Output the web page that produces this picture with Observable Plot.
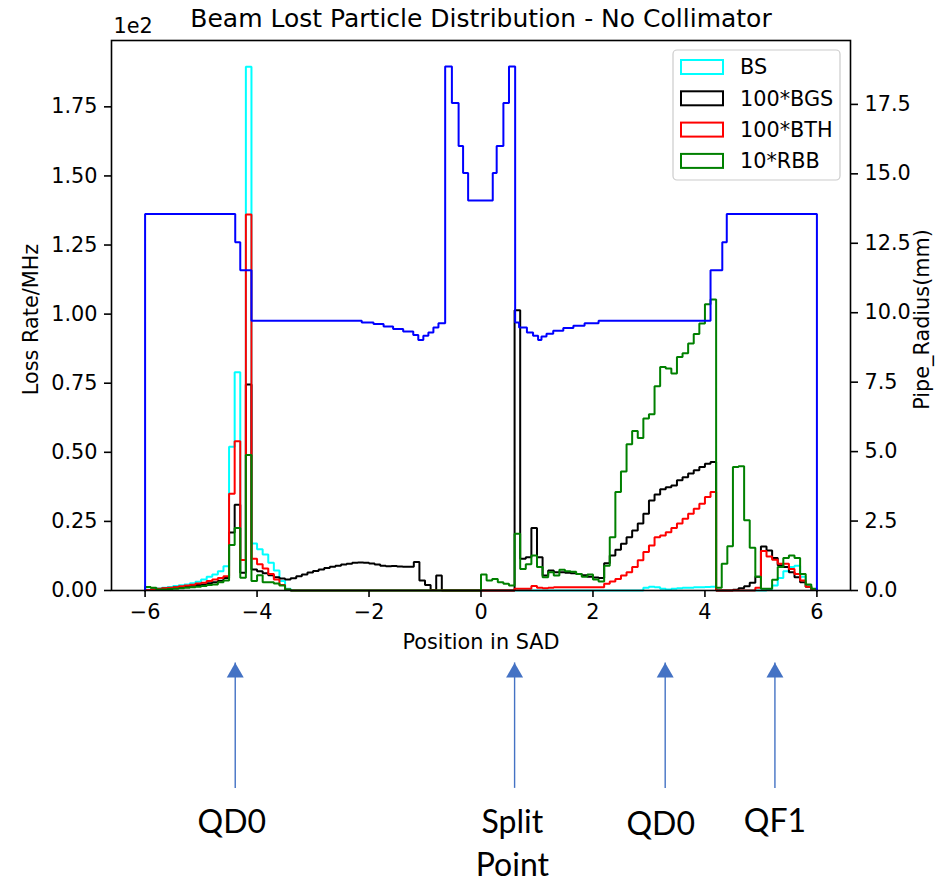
<!DOCTYPE html>
<html><head><meta charset="utf-8">
<script src="https://cdn.jsdelivr.net/npm/d3@7"></script>
<script src="https://cdn.jsdelivr.net/npm/@observablehq/plot@0.6"></script>
<style>body{margin:0;background:#fff} #chart svg{display:block}</style>
</head><body><div id="chart"></div>
<script>
const title = "Beam Lost Particle Distribution - No Collimator";
const xLabel = "Position in SAD";
const yLabelLeft = "Loss Rate/MHz";
const yLabelRight = "Pipe_Radius(mm)";
const xTicks = [-6, -4, -2, 0, 2, 4, 6];
const leftTicks = [0, 0.25, 0.5, 0.75, 1.0, 1.25, 1.5, 1.75];
const rightTicks = [0, 2.5, 5, 7.5, 10, 12.5, 15, 17.5];
const seriesNames = ["BS", "100*BGS", "100*BTH", "10*RBB"];
const seriesColors = ["#00ffff", "#000000", "#ff0000", "#008000"];

const binEdges = [
 -6.0,-5.9,-5.8,-5.7,-5.6,-5.5,-5.4,-5.3,-5.2,-5.1,
 -5.0,-4.9,-4.8,-4.7,-4.6,-4.5,-4.4,-4.3,-4.2,-4.1,
 -4.0,-3.9,-3.8,-3.7,-3.6,-3.5,-3.4,-3.3,-3.2,-3.1,
 -3.0,-2.9,-2.8,-2.7,-2.6,-2.5,-2.4,-2.3,-2.2,-2.1,
 -2.0,-1.9,-1.8,-1.7,-1.6,-1.5,-1.4,-1.3,-1.2,-1.1,
 -1.0,-0.9,-0.8,-0.7,-0.6,-0.5,-0.4,-0.3,-0.2,-0.1,
 0.0,0.1,0.2,0.3,0.4,0.5,0.6,0.7,0.8,0.9,
 1.0,1.1,1.2,1.3,1.4,1.5,1.6,1.7,1.8,1.9,
 2.0,2.1,2.2,2.3,2.4,2.5,2.6,2.7,2.8,2.9,
 3.0,3.1,3.2,3.3,3.4,3.5,3.6,3.7,3.8,3.9,
 4.0,4.1,4.2,4.3,4.4,4.5,4.6,4.7,4.8,4.9,
 5.0,5.1,5.2,5.3,5.4,5.5,5.6,5.7,5.8,5.9];
const binEnd = 6.0;

const bs = [
 0.003,0.005,0.007,0.010,0.013,0.016,0.019,0.022,0.026,0.032,
 0.040,0.050,0.058,0.070,0.088,0.520,0.790,0.110,1.895,0.170,
 0.149,0.130,0.100,0.072,0.034,0.006,0,0,0,0,
 0,0,0,0,0,0,0,0,0,0,
 0,0,0,0,0,0,0,0,0,0,
 0,0,0,0,0,0,0,0,0,0,
 0,0,0,0,0,0,0,0,0,0,
 0,0,0,0,0,0,0,0,0,0,
 0,0,0,0,0,0,0,0,0,0.010,
 0.014,0.012,0.006,0.004,0.006,0.008,0.010,0.010,0.012,0.012,
 0.013,0.014,0,0,0,0,0,0,0,0,
 0,0.004,0.018,0.045,0.070,0.085,0.090,0.050,0.015,0.004];
const bgs = [
 0.002,0.003,0.005,0.007,0.009,0.011,0.013,0.015,0.017,0.020,
 0.022,0.026,0.030,0.035,0.045,0.210,0.310,0.064,0.745,0.076,
 0.070,0.062,0.055,0.048,0.043,0.040,0.044,0.052,0.058,0.065,
 0.071,0.076,0.081,0.086,0.090,0.094,0.097,0.100,0.101,0.100,
 0.098,0.094,0.090,0.088,0.089,0.087,0.086,0.086,0.103,0.036,
 0.020,0.002,0.054,0,0,0,0,0,0,0,
 0,0,0,0,0,0,1.014,0.115,0.120,0.226,
 0.120,0.054,0.072,0.066,0.066,0.064,0.062,0.060,0.055,0.050,
 0.047,0.045,0.099,0.127,0.147,0.169,0.193,0.217,0.242,0.278,
 0.326,0.347,0.366,0.374,0.380,0.399,0.410,0.423,0.435,0.447,
 0.459,0.465,0,0,0,0.003,0.008,0.015,0.028,0.050,
 0.159,0.145,0.118,0.091,0.085,0.066,0.048,0.030,0.014,0.004];
const bth = [
 0.002,0.004,0.006,0.008,0.010,0.012,0.015,0.018,0.021,0.025,
 0.028,0.034,0.040,0.045,0.052,0.350,0.540,0.110,1.360,0.115,
 0.095,0.080,0.060,0.040,0.020,0.004,0,0,0,0,
 0,0,0,0,0,0,0,0,0,0,
 0,0,0,0,0,0,0,0,0,0,
 0,0,0,0,0,0,0,0,0,0,
 0,0,0,0,0,0,0.006,0.006,0.006,0.016,
 0.010,0.008,0.010,0.012,0.012,0.012,0.012,0.012,0.012,0.012,
 0.012,0.012,0.024,0.033,0.042,0.054,0.066,0.085,0.109,0.139,
 0.163,0.193,0.199,0.211,0.226,0.242,0.260,0.278,0.296,0.314,
 0.338,0.356,0,0,0,0,0,0,0,0.010,
 0.143,0.123,0.111,0.097,0.097,0.078,0.060,0.036,0.014,0.003];
const rbb = [
 0.013,0.010,0.004,0.004,0.005,0.006,0.008,0.010,0.012,0.014,
 0.016,0.020,0.022,0.030,0.036,0.165,0.226,0.046,0.490,0.034,
 0.055,0.030,0.030,0.025,0.018,0.004,0,0,0,0,
 0,0,0,0,0,0,0,0,0,0,
 0,0,0,0,0,0,0,0,0,0,
 0,0,0,0,0,0,0,0,0,0,
 0.058,0.036,0.042,0.030,0.024,0.018,0.205,0.078,0.095,0.127,
 0.085,0.048,0.066,0.054,0.075,0.070,0.068,0.060,0.050,0.058,
 0.040,0.033,0.090,0.193,0.356,0.431,0.529,0.577,0.552,0.622,
 0.638,0.739,0.809,0.803,0.785,0.845,0.858,0.894,0.928,0.966,
 1.036,1.053,0.010,0.097,0.160,0.447,0.450,0.254,0.155,0.050,
 0.006,0.006,0.039,0.085,0.118,0.127,0.118,0.060,0.022,0.006];

// Pipe radius (mm): step positions and radii
const pipeX = [-6.0,-6.0,-4.39,-4.30,-4.10,-2.13,-1.92,-1.74,-1.57,-1.39,-1.21,-1.12,-1.03,-0.94,-0.85,-0.76,
  -0.64,-0.52,-0.40,-0.32,-0.23,0.21,0.28,0.40,0.50,
  0.61,0.68,0.82,0.93,1.02,1.08,1.17,1.29,1.47,1.65,1.85,2.10,4.10,4.31,4.39,6.0];
const pipeR = [0,13.55,12.54,11.53,9.71,9.65,9.59,9.50,9.41,9.32,9.20,9.02,9.17,9.29,9.47,9.62,
  18.86,17.55,16.0,15.03,14.04,15.03,16.0,17.55,18.86,
  9.65,9.47,9.29,9.17,9.02,9.14,9.24,9.35,9.45,9.53,9.62,9.71,11.53,12.54,13.55,0];

// annotations below the chart (data x, y in left-axis units)
const annArrowX = [-4.39, 0.60, 3.29, 5.25];
const annTipY = -0.262, annBaseY = -0.716, annHeadY = -0.297;
const annTexts = ["QD0", "Split", "Point", "QD0", "QF1"];
const annTextX = [-4.45, 0.56, 0.56, 3.21, 5.25];
const annTextY = [-0.839, -0.839, -0.995, -0.847, -0.836];

const yMax = 1.99, rMax = 19.8;
const K = yMax / rMax;

function stepPts(vals) {
  const pts = [{x: binEdges[0], y: 0}];
  binEdges.forEach((e, i) => pts.push({x: e, y: vals[i]}));
  pts.push({x: binEnd, y: 0});
  return pts;
}
const seriesVals = [bs, bgs, bth, rbb];
const pipe = pipeX.map((x, i) => ({x, r: pipeR[i]}));
const arrows = annArrowX.map(x => ({x}));
const labels = annTexts.map((t, i) => ({t, x: annTextX[i], y: annTextY[i]}));

const FS = 20.8;
const plot = Plot.plot({
  width: 948, height: 881,
  marginTop: 40, marginBottom: 291, marginLeft: 111, marginRight: 98,
  style: {fontFamily: "DejaVu Sans", fontSize: FS + "px", background: "white", color: "black", overflow: "visible"},
  x: {domain: [-6.6, 6.6]},
  y: {domain: [0, yMax]},
  marks: [
    ...seriesVals.map((v, i) => Plot.line(stepPts(v), {x: "x", y: "y", curve: "step-after", stroke: seriesColors[i], strokeWidth: 2, strokeLinejoin: "miter"})),
    Plot.line(pipe, {x: "x", y: d => d.r * K, curve: "step-after", stroke: "#0000ff", strokeWidth: 2, strokeLinejoin: "miter"}),
    Plot.frame({stroke: "black", strokeWidth: 1.6}),
    Plot.axisX({ticks: xTicks, tickSize: 7, tickPadding: 7, fontSize: FS, label: null, strokeWidth: 1.6}),
    Plot.axisY({anchor: "left", ticks: leftTicks, tickFormat: d => d.toFixed(2), tickSize: 7, tickPadding: 7, fontSize: FS, label: null, strokeWidth: 1.6}),
    Plot.axisY({anchor: "right", ticks: rightTicks.map(t => t * K), tickFormat: d => (Math.round(d / K * 10) / 10).toFixed(1), tickSize: 7, tickPadding: 7, fontSize: FS, label: null, strokeWidth: 1.6}),
    Plot.text([title], {frameAnchor: "top", lineAnchor: "middle", dy: -22, fontSize: 25}),
    Plot.text(["1e2"], {frameAnchor: "top-left", lineAnchor: "middle", dy: -14, dx: 2, textAnchor: "start", fontSize: FS}),
    Plot.text([xLabel], {frameAnchor: "bottom", lineAnchor: "middle", dy: 52, fontSize: FS}),
    Plot.text([yLabelLeft], {frameAnchor: "left", textAnchor: "middle", lineAnchor: "middle", dx: -80, dy: 4, rotate: -90, fontSize: FS}),
    Plot.text([yLabelRight], {frameAnchor: "right", textAnchor: "middle", lineAnchor: "middle", dx: 72, dy: 4, rotate: -90, fontSize: FS}),
    Plot.ruleX(arrows, {x: "x", y1: () => annBaseY, y2: () => annTipY, stroke: "#4472C4", strokeWidth: 1.4}),
    Plot.dot(arrows, {x: "x", y: () => annHeadY, symbol: "triangle", r: 6.3, fill: "#4472C4", stroke: "none"}),
    Plot.text(labels, {x: "x", y: "y", text: "t", fontFamily: "Lato", fontSize: 32, fill: "black"})
  ]
});

// legend (matplotlib style, upper right inside axes)
const svg = d3.select(plot);
const lg = svg.append("g").attr("font-family", "DejaVu Sans").attr("font-size", FS).attr("text-anchor", "start");
lg.append("rect").attr("x", 673).attr("y", 50).attr("width", 167).attr("height", 130)
  .attr("rx", 4).attr("fill", "white").attr("fill-opacity", 0.8).attr("stroke", "#cccccc").attr("stroke-width", 1.2);
seriesNames.forEach((name, i) => {
  const cy = 67 + i * 31.3;
  lg.append("rect").attr("x", 681).attr("y", cy - 7).attr("width", 42).attr("height", 14)
    .attr("fill", "none").attr("stroke", seriesColors[i]).attr("stroke-width", 2);
  lg.append("text").attr("x", 740).attr("y", cy).attr("dy", "0.35em").attr("text-anchor", "start").attr("fill", "black").text(name);
});

document.getElementById("chart").appendChild(plot);
</script>
</body></html>
